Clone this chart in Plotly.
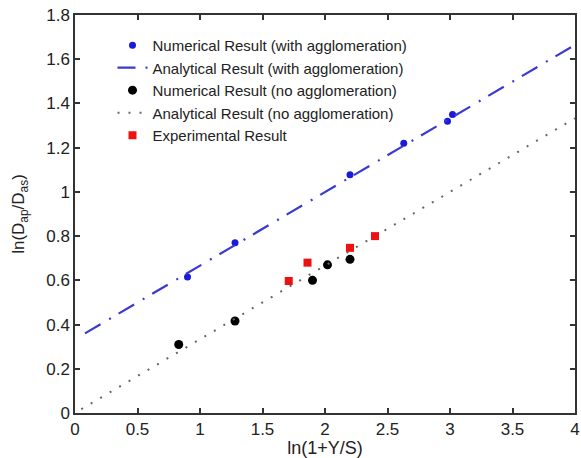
import plotly.graph_objects as go

# Data
num_with_x = [0.90, 1.28, 2.20, 2.63, 2.98, 3.02]
num_with_y = [0.615, 0.77, 1.077, 1.22, 1.32, 1.35]

ana_with_x = [0.08, 4.0]
ana_with_y = [0.36, 1.665]

num_no_x = [0.83, 1.28, 1.90, 2.02, 2.20]
num_no_y = [0.31, 0.416, 0.60, 0.67, 0.695]

ana_no_x = [0.05, 4.0]
ana_no_y = [0.017, 1.333]

exp_x = [1.71, 1.86, 2.20, 2.40]
exp_y = [0.597, 0.68, 0.747, 0.80]

x_ticks = [0, 0.5, 1, 1.5, 2, 2.5, 3, 3.5, 4]
x_tick_labels = ["0", "0.5", "1", "1.5", "2", "2.5", "3", "3.5", "4"]
y_ticks = [0, 0.2, 0.4, 0.6, 0.8, 1.0, 1.2, 1.4, 1.6, 1.8]
y_tick_labels = ["0", "0.2", "0.4", "0.6", "0.8", "1", "1.2", "1.4", "1.6", "1.8"]

FONT = "Liberation Sans, Arial, sans-serif"
TXT = "#222222"

fig = go.Figure()
fig.add_trace(go.Scatter(x=num_with_x, y=num_with_y, mode="markers",
                         name="Numerical Result (with agglomeration)",
                         marker=dict(color="#1a1adb", size=7, symbol="circle")))
fig.add_trace(go.Scatter(x=ana_with_x, y=ana_with_y, mode="lines",
                         name="Analytical Result (with agglomeration)",
                         line=dict(color="#3a3ad0", width=2.2, dash="18px,10px,2px,9px")))
fig.add_trace(go.Scatter(x=num_no_x, y=num_no_y, mode="markers",
                         name="Numerical Result (no agglomeration)",
                         marker=dict(color="black", size=9, symbol="circle")))
fig.add_trace(go.Scatter(x=ana_no_x, y=ana_no_y, mode="lines",
                         name="Analytical Result (no agglomeration)",
                         line=dict(color="#666666", width=2, dash="2px,9px")))
fig.add_trace(go.Scatter(x=exp_x, y=exp_y, mode="markers",
                         name="Experimental Result",
                         marker=dict(color="#ee1111", size=8, symbol="square")))

axis_common = dict(showline=True, linecolor="#333333", linewidth=1.5, mirror="ticks",
                   ticks="inside", ticklen=5, tickcolor="#333333", tickwidth=1.5,
                   showgrid=False, zeroline=False, ticklabeloverflow="allow",
                   automargin=False,
                   tickfont=dict(family=FONT, size=17, color=TXT))

fig.update_xaxes(range=[0, 4], tickvals=x_ticks, ticktext=x_tick_labels,
                 title=dict(text="ln(1+Y/S)", font=dict(family=FONT, size=18, color=TXT),
                            standoff=12),
                 **axis_common)
fig.update_yaxes(range=[0, 1.8], tickvals=y_ticks, ticktext=y_tick_labels,
                 title=dict(text="ln(D<sub>ap</sub>/D<sub>as</sub>)",
                            font=dict(family=FONT, size=17, color=TXT), standoff=17),
                 **axis_common)

fig.update_layout(
    width=581, height=458,
    margin=dict(l=75, r=6, t=15, b=45),
    paper_bgcolor="white", plot_bgcolor="white",
    font=dict(family=FONT, color=TXT),
    legend=dict(x=0.075, y=0.965, xanchor="left", yanchor="top",
                bgcolor="rgba(0,0,0,0)", font=dict(family=FONT, size=15, color=TXT),
                itemwidth=30, tracegroupgap=0),
)

fig.write_html("out.html")
